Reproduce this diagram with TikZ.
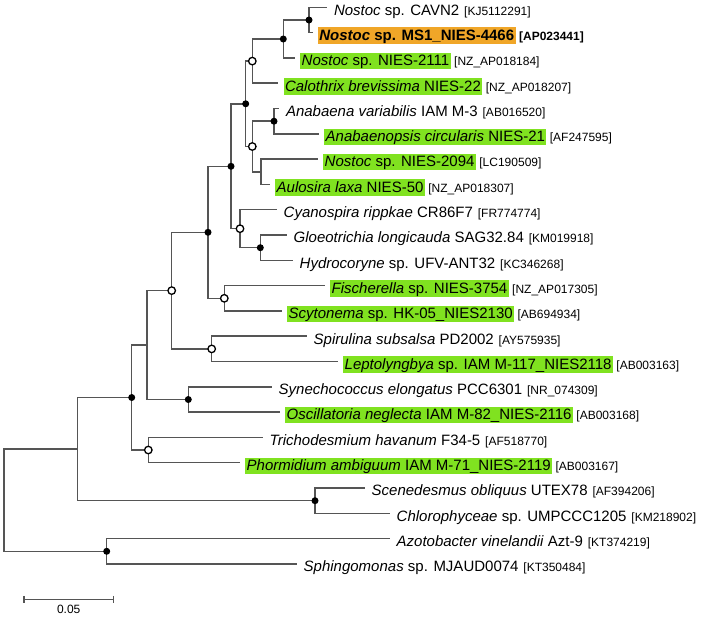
\documentclass[tikz,border=0pt]{standalone}
\usepackage{fontspec}
\setmainfont{Liberation Sans}
\usetikzlibrary{backgrounds}
\definecolor{hlgreen}{RGB}{128,226,32}
\definecolor{hlorange}{RGB}{240,166,40}
\definecolor{branch}{RGB}{85,85,85}
\tikzset{
  br/.style={draw=branch, line width=1.5pt},
  dotf/.style={circle, fill=black, inner sep=0pt, minimum size=7pt},
  doto/.style={circle, draw=black, fill=white, line width=1.3pt, inner sep=0pt, minimum size=7.5pt},
  leaf/.style={anchor=base west, inner xsep=1.5pt, inner ysep=0pt, text height=13pt, text depth=3.5pt, font=\fontsize{15}{17}\selectfont},
  grn/.style={leaf, fill=hlgreen},
  org/.style={leaf, fill=hlorange, font=\fontsize{15}{17}\selectfont\bfseries},
  acc/.style={anchor=base west, inner sep=0pt, font=\fontsize{12}{14}\selectfont},
  lab/.style={shift={(5,7.8)}}}

\begin{document}
\begin{tikzpicture}[x=1pt, y=-1pt]
  \useasboundingbox (0,0) rectangle (709,616);
  % tips of the branches
  \coordinate (t1) at (327.3,7.3);   \coordinate (t2) at (312.7,32.6);
  \coordinate (t3) at (295,57.9);    \coordinate (t4) at (278.3,83.2);
  \coordinate (t5) at (279.3,108.5); \coordinate (t6) at (319,133.8);
  \coordinate (t7) at (318,159.1);   \coordinate (t8) at (270,184.4);
  \coordinate (t9) at (277,209.7);   \coordinate (t10) at (287,235.0);
  \coordinate (t11) at (293,260.3);  \coordinate (t12) at (325,285.6);
  \coordinate (t13) at (282,310.9);  \coordinate (t14) at (307,336.2);
  \coordinate (t15) at (338,361.5);  \coordinate (t16) at (272,386.8);
  \coordinate (t17) at (280,412.1);  \coordinate (t18) at (263,437.4);
  \coordinate (t19) at (240,462.7);  \coordinate (t20) at (365,488.0);
  \coordinate (t21) at (390,513.3);  \coordinate (t22) at (390,538.6);
  \coordinate (t23) at (297,563.9);
  % inner nodes (filled / open = support)
  \node[dotf] (K) at (309,20) {};
  \node[dotf] (J) at (283.3,39) {};
  \node[doto] (H) at (252.3,61.1) {};
  \node[dotf] (An) at (274,121.2) {};
  \coordinate (N2) at (261,171.8);
  \node[doto] (I) at (252.3,146.5) {};
  \node[dotf] (G) at (245.7,103.8) {};
  \node[dotf] (Gl) at (260.3,247.7) {};
  \node[doto] (Cy) at (240,228.7) {};
  \node[dotf] (F) at (231,166.3) {};
  \node[doto] (Fs) at (224.3,298.3) {};
  \node[dotf] (E) at (208,232.3) {};
  \node[doto] (L) at (211.7,348.9) {};
  \node[doto] (D) at (171.7,290.6) {};
  \node[dotf] (O) at (188.3,399.5) {};
  \coordinate (C) at (147,345);
  \node[doto] (T) at (148.3,450) {};
  \node[dotf] (B) at (131.7,397.5) {};
  \node[dotf] (S) at (315,500.7) {};
  \coordinate (A) at (77.3,449.1);
  \node[dotf] (Z) at (106.7,551.3) {};
  \coordinate (R) at (4,500.2);
  % branches
  \begin{scope}[on background layer]
    \draw[br] (K.center) |- (t1); \draw[br] (K.center) |- (t2);
    \draw[br] (J.center) |- (K.center); \draw[br] (J.center) |- (t3);
    \draw[br] (H.center) |- (J.center); \draw[br] (H.center) |- (t4);
    \draw[br] (An.center) |- (t5); \draw[br] (An.center) |- (t6);
    \draw[br] (N2) |- (t7); \draw[br] (N2) |- (t8);
    \draw[br] (I.center) |- (An.center); \draw[br] (I.center) |- (N2);
    \draw[br] (G.center) |- (H.center); \draw[br] (G.center) |- (I.center);
    \draw[br] (Gl.center) |- (t10); \draw[br] (Gl.center) |- (t11);
    \draw[br] (Cy.center) |- (t9); \draw[br] (Cy.center) |- (Gl.center);
    \draw[br] (F.center) |- (G.center); \draw[br] (F.center) |- (Cy.center);
    \draw[br] (Fs.center) |- (t12); \draw[br] (Fs.center) |- (t13);
    \draw[br] (E.center) |- (F.center); \draw[br] (E.center) |- (Fs.center);
    \draw[br] (L.center) |- (t14); \draw[br] (L.center) |- (t15);
    \draw[br] (D.center) |- (E.center); \draw[br] (D.center) |- (L.center);
    \draw[br] (O.center) |- (t16); \draw[br] (O.center) |- (t17);
    \draw[br] (C) |- (D.center); \draw[br] (C) |- (O.center);
    \draw[br] (T.center) |- (t18); \draw[br] (T.center) |- (t19);
    \draw[br] (B.center) |- (C); \draw[br] (B.center) |- (T.center);
    \draw[br] (S.center) |- (t20); \draw[br] (S.center) |- (t21);
    \draw[br] (A) |- (B.center); \draw[br] (A) |- (S.center);
    \draw[br] (Z.center) |- (t22); \draw[br] (Z.center) |- (t23);
    \draw[br] (R) |- (A); \draw[br] (R) |- (Z.center);
  \end{scope}
  % taxa
  \node[leaf] (l1) at ([lab]t1) {\textit{Nostoc} sp. CAVN2};
  \node[org] (l2) at ([lab]t2) {\textit{Nostoc} sp. MS1\_NIES-4466};
  \node[grn] (l3) at ([lab]t3) {\textit{Nostoc} sp. NIES-2111};
  \node[grn] (l4) at ([lab]t4) {\textit{Calothrix brevissima} NIES-22};
  \node[leaf] (l5) at ([lab]t5) {\textit{Anabaena variabilis} IAM M-3};
  \node[grn] (l6) at ([lab]t6) {\textit{Anabaenopsis circularis} NIES-21};
  \node[grn] (l7) at ([lab]t7) {\textit{Nostoc} sp. NIES-2094};
  \node[grn] (l8) at ([lab]t8) {\textit{Aulosira laxa} NIES-50};
  \node[leaf] (l9) at ([lab]t9) {\textit{Cyanospira rippkae} CR86F7};
  \node[leaf] (l10) at ([lab]t10) {\textit{Gloeotrichia longicauda} SAG32.84};
  \node[leaf] (l11) at ([lab]t11) {\textit{Hydrocoryne} sp. UFV-ANT32};
  \node[grn] (l12) at ([lab]t12) {\textit{Fischerella} sp. NIES-3754};
  \node[grn] (l13) at ([lab]t13) {\textit{Scytonema} sp. HK-05\_NIES2130};
  \node[leaf] (l14) at ([lab]t14) {\textit{Spirulina subsalsa} PD2002};
  \node[grn] (l15) at ([lab]t15) {\textit{Leptolyngbya} sp. IAM M-117\_NIES2118};
  \node[leaf] (l16) at ([lab]t16) {\textit{Synechococcus elongatus} PCC6301};
  \node[grn] (l17) at ([lab]t17) {\textit{Oscillatoria neglecta} IAM M-82\_NIES-2116};
  \node[leaf] (l18) at ([lab]t18) {\textit{Trichodesmium havanum} F34-5};
  \node[grn] (l19) at ([lab]t19) {\textit{Phormidium ambiguum} IAM M-71\_NIES-2119};
  \node[leaf] (l20) at ([lab]t20) {\textit{Scenedesmus obliquus} UTEX78};
  \node[leaf] (l21) at ([lab]t21) {\textit{Chlorophyceae} sp. UMPCCC1205};
  \node[leaf] (l22) at ([lab]t22) {\textit{Azotobacter vinelandii} Azt-9};
  \node[leaf] (l23) at ([lab]t23) {\textit{Sphingomonas} sp. MJAUD0074};
  % accession numbers
  \node[acc] (a1) at ([xshift=3pt]l1.base east) {[KJ5112291]};
  \node[acc, font=\fontsize{12}{14}\selectfont\bfseries] (a2) at ([xshift=3pt]l2.base east) {[AP023441]};
  \node[acc] (a3) at ([xshift=3pt]l3.base east) {[NZ\_AP018184]};
  \node[acc] (a4) at ([xshift=3pt]l4.base east) {[NZ\_AP018207]};
  \node[acc] (a5) at ([xshift=3pt]l5.base east) {[AB016520]};
  \node[acc] (a6) at ([xshift=3pt]l6.base east) {[AF247595]};
  \node[acc] (a7) at ([xshift=3pt]l7.base east) {[LC190509]};
  \node[acc] (a8) at ([xshift=3pt]l8.base east) {[NZ\_AP018307]};
  \node[acc] (a9) at ([xshift=3pt]l9.base east) {[FR774774]};
  \node[acc] (a10) at ([xshift=3pt]l10.base east) {[KM019918]};
  \node[acc] (a11) at ([xshift=3pt]l11.base east) {[KC346268]};
  \node[acc] (a12) at ([xshift=3pt]l12.base east) {[NZ\_AP017305]};
  \node[acc] (a13) at ([xshift=3pt]l13.base east) {[AB694934]};
  \node[acc] (a14) at ([xshift=3pt]l14.base east) {[AY575935]};
  \node[acc] (a15) at ([xshift=3pt]l15.base east) {[AB003163]};
  \node[acc] (a16) at ([xshift=3pt]l16.base east) {[NR\_074309]};
  \node[acc] (a17) at ([xshift=3pt]l17.base east) {[AB003168]};
  \node[acc] (a18) at ([xshift=3pt]l18.base east) {[AF518770]};
  \node[acc] (a19) at ([xshift=3pt]l19.base east) {[AB003167]};
  \node[acc] (a20) at ([xshift=3pt]l20.base east) {[AF394206]};
  \node[acc] (a21) at ([xshift=3pt]l21.base east) {[KM218902]};
  \node[acc] (a22) at ([xshift=3pt]l22.base east) {[KT374219]};
  \node[acc] (a23) at ([xshift=3pt]l23.base east) {[KT350484]};
  % scale bar
  \coordinate (s0) at (24,599.3); \coordinate (s1) at (113.3,599.3);
  \draw[br] (s0) -- (s1);
  \draw[br] ([yshift=3.5pt]s0) -- ([yshift=-3.5pt]s0);
  \draw[br] ([yshift=3.5pt]s1) -- ([yshift=-3.5pt]s1);
  \node[font=\fontsize{12}{14}\selectfont] (sc) at (68.7,609) {0.05};
\end{tikzpicture}
\end{document}
